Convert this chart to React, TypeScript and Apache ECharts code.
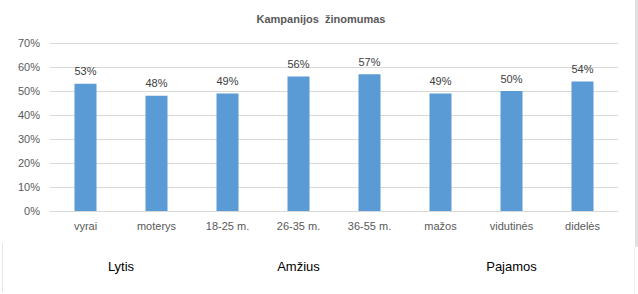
import React, { useEffect, useRef } from "react";
import * as echarts from "echarts";

const categories = ["vyrai", "moterys", "18-25 m.", "26-35 m.", "36-55 m.", "mažos", "vidutinės", "didelės"];
const values = [53, 48, 49, 56, 57, 49, 50, 54];
const groupNames = ["Lytis", "Amžius", "Pajamos"];
const groupMembers = [[0, 1], [2, 3, 4], [5, 6, 7]];
const yTicks = [0, 10, 20, 30, 40, 50, 60, 70];

export default function App() {
  const ref = useRef<HTMLDivElement>(null);
  useEffect(() => {
    if (!ref.current) return;
    const chart = echarts.init(ref.current, null, { renderer: "svg" });
    const font = "'Liberation Sans', Arial, sans-serif";
    chart.setOption({
      animation: false,
      backgroundColor: "#ffffff",
      title: {
        text: "Kampanijos  žinomumas",
        left: 316,
        textAlign: "center",
        top: 8,
        textStyle: { fontSize: 11, fontWeight: "bold", color: "#595959", fontFamily: font },
      },
      grid: { left: 50, right: 20, top: 43, bottom: 83 },
      xAxis: {
        type: "category",
        data: categories,
        axisTick: { show: false },
        axisLine: { lineStyle: { color: "#d9d9d9" } },
        axisLabel: { color: "#595959", fontSize: 11, fontFamily: font, margin: 9 },
      },
      yAxis: {
        type: "value",
        min: yTicks[0],
        max: yTicks[yTicks.length - 1],
        interval: 10,
        axisLine: { show: false },
        axisTick: { show: false },
        splitLine: { lineStyle: { color: "#d9d9d9" } },
        axisLabel: { formatter: "{value}%", color: "#595959", fontSize: 11, fontFamily: font, margin: 10 },
      },
      series: [
        {
          type: "bar",
          data: values,
          barWidth: 22,
          itemStyle: { color: "#5B9BD5" },
          label: {
            show: true,
            position: "top",
            distance: 7,
            formatter: "{c}%",
            color: "#404040",
            fontSize: 11,
            fontFamily: font,
          },
        },
      ],
    });
    const texts = groupNames.map((name, i) => {
      const xs = groupMembers[i].map((idx) => chart.convertToPixel({ xAxisIndex: 0 }, idx) as number);
      const cx = xs.reduce((a, b) => a + b, 0) / xs.length;
      return {
        type: "text",
        x: cx,
        y: 266,
        style: { text: name, fill: "#000000", fontSize: 13, fontFamily: font, align: "center", verticalAlign: "middle" },
      };
    });
    chart.setOption({
      graphic: [
        ...texts,
        { type: "rect", shape: { x: 635, y: 0, width: 3, height: 247 }, style: { fill: "#e0e0e0" } },
        { type: "line", shape: { x1: 634.5, y1: 247, x2: 634.5, y2: 294 }, style: { stroke: "#f0f0f0", lineWidth: 1 } },
        { type: "line", shape: { x1: 2.5, y1: 243, x2: 2.5, y2: 292 }, style: { stroke: "#e6e6e6", lineWidth: 1 } },
      ],
    });
    return () => chart.dispose();
  }, []);
  return <div ref={ref} style={{ width: 638, height: 294, position: "absolute", left: 0, top: 0 }} />;
}
